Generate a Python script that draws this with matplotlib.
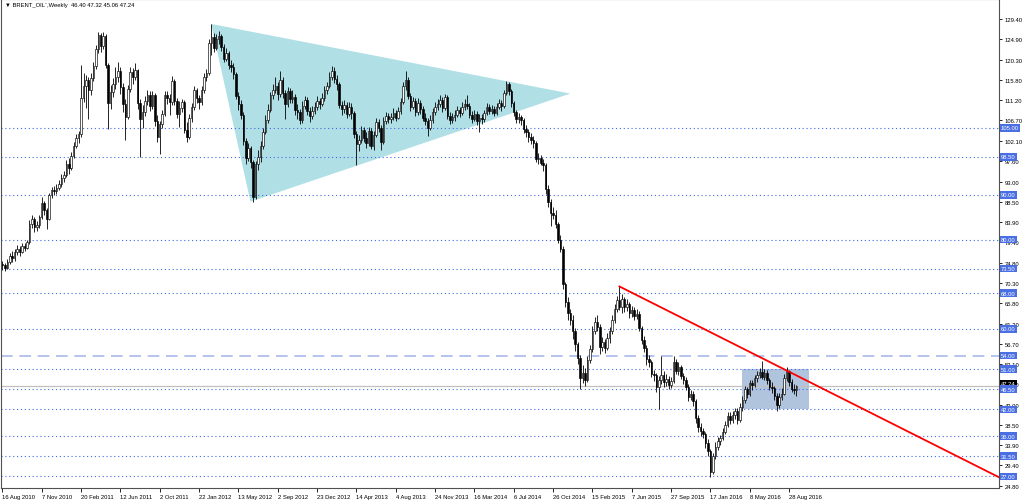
import numpy as np
import matplotlib.pyplot as plt
from matplotlib.patches import Polygon, Rectangle

# weekly closes (16 bars per row)
closes = [
    74.2, 73.6, 75.0, 76.4, 75.8, 77.2, 77.9, 77.3, 78.6, 78.2, 79.4, 83.5, 84.6, 82.9, 83.2, 85.0,
    88.1, 86.6, 84.6, 89.9, 91.2, 90.8, 91.6, 92.4, 93.8, 94.5, 96.9, 96.1, 98.7, 101.0, 102.8, 103.6,
    111.8, 114.5, 115.8, 113.6, 116.2, 118.9, 122.6, 125.9, 123.4, 125.5, 119.0, 110.5, 113.0, 114.8, 116.3, 117.8,
    114.2, 110.3, 107.5, 113.8, 117.6, 116.5, 117.9, 110.6, 107.0, 108.5, 111.1, 112.4, 110.0, 112.3, 106.6, 103.0,
    105.8, 108.2, 112.4, 111.8, 110.9, 115.6, 111.0, 108.2, 109.5, 110.7, 104.5, 103.0, 107.2, 109.8, 113.5, 111.6,
    110.8, 113.5, 116.4, 117.3, 124.0, 125.3, 123.0, 124.9, 125.5, 123.1, 120.5, 121.8, 119.0, 118.7, 117.0, 112.1,
    110.3, 108.0, 102.0, 98.2, 100.5, 97.3, 89.5, 97.0, 98.5, 101.0, 104.2, 106.8, 109.0, 112.3, 113.5, 114.5,
    112.6, 115.8, 112.9, 110.4, 113.3, 111.4, 112.0, 109.0, 108.5, 106.8, 110.0, 111.3, 108.8, 107.6, 108.9, 109.7,
    111.0, 110.3, 111.6, 113.5, 114.3, 116.5, 117.8, 116.0, 114.9, 110.2, 109.2, 110.1, 108.2, 109.8, 108.3, 103.6,
    101.5, 102.3, 104.5, 102.8, 101.6, 104.4, 100.9, 103.5, 106.4, 105.0, 101.8, 106.6, 107.6, 106.9, 107.5, 108.4,
    107.3, 108.7, 110.9, 114.4, 115.8, 112.2, 109.8, 111.1, 108.6, 110.6, 109.3, 107.3, 106.5, 105.1, 106.8, 108.6,
    109.8, 110.3, 111.2, 109.5, 111.9, 107.6, 106.7, 107.4, 108.0, 109.1, 108.4, 109.7, 110.4, 110.0, 108.0, 107.1,
    108.2, 106.6, 107.3, 106.9, 108.3, 109.8, 108.9, 109.2, 108.4, 109.8, 110.6, 109.9, 112.9, 114.9, 113.2, 110.5,
    108.5, 107.0, 107.5, 106.8, 104.8, 104.0, 103.0, 102.2, 101.6, 98.0, 98.3, 97.2, 96.7, 91.3, 88.5, 86.0,
    85.5, 83.5, 80.0, 78.0, 70.0, 66.0, 63.5, 62.0, 59.5, 56.5, 53.5, 49.0, 50.2, 48.6, 53.0, 55.5,
    59.5, 61.5, 60.5, 56.0, 57.0, 55.8, 58.0, 59.5, 62.0, 64.5, 66.5, 65.0, 66.8, 64.8, 65.6, 63.5,
    64.2, 62.8, 63.4, 60.2, 57.5, 55.8, 53.3, 52.5, 50.0, 49.6, 47.0, 48.5, 49.6, 48.0, 48.8, 47.5,
    48.3, 52.5, 50.5, 51.5, 49.5, 48.5, 47.0, 44.8, 45.5, 43.8, 40.0, 38.0, 37.2, 36.5, 34.5, 32.6,
    28.0, 31.5, 33.5, 34.8, 35.6, 37.0, 38.5, 40.5, 39.5, 40.8, 41.5, 39.5, 42.5, 44.0, 46.5, 45.5,
    47.8, 47.5, 48.9, 49.6, 50.3, 49.3, 50.2, 48.5, 47.0, 46.8, 45.0, 43.0, 44.8, 45.5, 49.0, 50.5,
    48.0, 46.5, 46.4, 47.24,
]
highs = [
    75.3, 74.8, 75.6, 77.0, 77.4, 78.0, 78.8, 78.5, 79.2, 79.3, 80.0, 84.3, 85.4, 85.0, 84.1, 85.6,
    89.5, 88.6, 87.1, 90.5, 91.8, 92.0, 92.4, 93.3, 94.6, 95.4, 97.8, 98.3, 99.6, 101.9, 103.6, 104.4,
    119.0, 117.4, 116.9, 116.4, 117.2, 119.8, 123.5, 126.6, 126.3, 126.4, 126.0, 119.6, 114.6, 116.1, 118.7, 119.7,
    118.7, 115.0, 111.4, 114.6, 118.6, 118.4, 119.6, 118.3, 111.4, 110.1, 112.2, 113.6, 113.3, 113.2, 112.9, 108.0,
    106.6, 109.0, 113.3, 113.2, 112.7, 116.7, 115.9, 111.7, 111.1, 111.5, 111.2, 106.3, 108.1, 110.6, 114.5, 114.0,
    112.3, 114.3, 117.2, 118.2, 125.0, 128.3, 126.2, 126.1, 126.7, 126.0, 123.9, 123.0, 122.3, 120.3, 119.5, 117.6,
    113.0, 111.2, 108.6, 102.7, 101.6, 101.0, 97.8, 97.6, 100.0, 102.0, 105.0, 108.0, 110.3, 113.1, 114.8, 116.5,
    115.3, 117.7, 116.4, 113.5, 114.2, 114.0, 113.4, 112.5, 110.3, 109.3, 111.0, 112.2, 111.9, 109.6, 110.0, 110.8,
    112.1, 111.8, 112.8, 114.5, 115.4, 117.6, 118.9, 118.6, 116.9, 115.3, 111.1, 111.3, 110.8, 110.9, 110.5, 108.9,
    104.3, 103.4, 105.4, 105.2, 104.0, 105.3, 104.9, 104.4, 107.3, 107.0, 105.6, 107.4, 108.6, 108.3, 108.4, 109.4,
    109.0, 109.6, 111.8, 115.3, 117.8, 116.3, 112.9, 112.0, 111.7, 111.6, 111.2, 109.9, 108.4, 107.3, 107.8, 109.5,
    110.8, 111.5, 112.4, 111.9, 112.6, 112.3, 108.5, 108.3, 109.0, 110.0, 109.8, 110.7, 111.4, 112.3, 110.6, 108.8,
    109.1, 108.9, 108.1, 108.2, 109.1, 110.6, 110.4, 110.1, 109.9, 110.6, 111.4, 111.2, 113.6, 115.6, 115.4, 113.7,
    111.1, 109.1, 108.3, 108.0, 107.2, 105.6, 104.8, 103.8, 103.2, 102.0, 99.3, 99.0, 98.0, 97.2, 92.3, 89.0,
    87.3, 86.6, 84.0, 81.0, 78.6, 70.6, 67.2, 64.4, 63.0, 60.2, 57.0, 54.1, 51.8, 51.2, 53.9, 56.4,
    60.6, 62.6, 63.0, 61.0, 58.2, 57.8, 59.1, 60.4, 63.1, 65.6, 67.4, 69.5, 67.7, 67.2, 66.6, 66.0,
    65.2, 64.9, 64.5, 63.9, 60.7, 58.3, 56.3, 54.1, 53.0, 50.8, 50.1, 49.4, 54.0, 50.6, 49.9, 49.4,
    49.3, 54.0, 53.2, 52.6, 52.0, 50.2, 49.2, 47.6, 46.4, 46.0, 44.2, 40.7, 38.9, 37.9, 37.0, 35.3,
    33.2, 32.3, 34.6, 35.8, 36.3, 37.8, 39.3, 41.3, 41.4, 41.6, 42.3, 42.2, 43.3, 44.9, 47.2, 47.0,
    48.5, 48.6, 49.6, 50.5, 51.3, 52.9, 51.0, 50.7, 49.1, 48.0, 47.3, 45.6, 45.6, 46.8, 49.8, 51.5,
    50.9, 48.7, 47.6, 47.32,
]
lows = [
    73.2, 72.9, 73.3, 74.6, 75.0, 75.3, 76.5, 76.4, 76.9, 77.4, 77.8, 79.0, 82.6, 81.8, 82.0, 82.6,
    84.7, 85.4, 82.3, 84.3, 89.2, 89.9, 90.1, 91.0, 91.8, 92.9, 94.0, 94.7, 95.6, 98.2, 100.4, 101.7,
    103.0, 110.7, 109.5, 107.1, 112.3, 115.5, 118.2, 121.8, 121.9, 122.6, 118.4, 104.8, 109.3, 111.9, 113.8, 115.4,
    112.5, 108.6, 102.2, 106.9, 113.0, 114.9, 115.8, 109.2, 98.4, 105.1, 107.6, 110.2, 108.9, 109.3, 105.5, 101.8,
    99.2, 104.9, 107.6, 110.3, 107.8, 110.2, 110.2, 107.3, 105.3, 108.6, 103.8, 101.9, 102.5, 106.4, 109.1, 110.5,
    109.2, 110.2, 112.9, 115.5, 116.8, 121.3, 122.0, 122.4, 123.8, 122.2, 119.8, 119.9, 118.1, 117.6, 115.9, 111.4,
    109.1, 106.9, 101.2, 97.0, 97.6, 96.1, 88.5, 89.0, 95.5, 97.4, 100.3, 103.6, 106.0, 108.5, 111.4, 112.8,
    111.3, 112.0, 111.7, 107.0, 109.8, 110.5, 110.6, 107.9, 107.0, 105.8, 106.2, 109.3, 107.9, 106.4, 106.9, 108.1,
    109.0, 109.3, 109.9, 111.0, 112.7, 113.9, 115.8, 115.1, 113.6, 109.5, 107.9, 108.4, 107.3, 107.6, 106.9, 102.7,
    96.7, 99.8, 101.7, 101.9, 100.4, 101.0, 100.2, 100.0, 102.9, 104.2, 100.0, 101.3, 105.9, 106.0, 106.2, 106.8,
    106.5, 106.9, 108.2, 110.3, 113.6, 111.4, 108.8, 109.2, 107.7, 108.0, 108.2, 106.5, 105.6, 103.3, 104.5, 106.2,
    108.0, 109.1, 109.6, 108.6, 109.0, 106.9, 105.8, 106.0, 106.6, 107.4, 107.5, 107.9, 109.0, 109.2, 107.3, 106.2,
    106.6, 105.7, 104.0, 105.9, 106.3, 107.8, 108.1, 108.1, 107.6, 107.9, 109.3, 108.9, 109.4, 112.3, 112.4, 109.8,
    107.6, 106.2, 106.2, 105.6, 103.9, 103.0, 101.9, 101.3, 100.6, 97.3, 96.9, 96.6, 95.4, 90.2, 87.2, 83.1,
    84.6, 82.7, 79.2, 77.2, 68.9, 64.9, 62.0, 60.9, 57.8, 55.0, 52.2, 46.5, 47.9, 47.2, 48.0, 52.3,
    54.9, 58.8, 59.6, 54.4, 55.1, 54.5, 55.2, 56.8, 58.9, 61.3, 63.8, 64.2, 63.6, 63.7, 63.9, 62.5,
    62.7, 61.9, 62.1, 59.6, 56.6, 54.9, 52.0, 51.4, 49.2, 48.3, 45.8, 42.0, 47.6, 46.9, 47.2, 46.6,
    46.8, 47.8, 49.8, 49.6, 48.7, 47.6, 46.2, 43.9, 44.0, 42.8, 38.9, 36.9, 36.1, 35.6, 33.3, 31.5,
    26.8, 27.5, 30.9, 32.8, 33.9, 35.0, 36.4, 38.0, 38.6, 38.9, 39.8, 38.8, 39.2, 41.7, 43.5, 44.6,
    45.0, 46.4, 46.9, 48.2, 48.9, 48.7, 48.5, 47.6, 46.2, 45.6, 44.0, 41.5, 42.3, 44.1, 45.1, 48.4,
    47.3, 45.8, 45.4, 45.06,
]
first_open = 74.6

date_labels = ["16 Aug 2010", "7 Nov 2010", "20 Feb 2011", "12 Jun 2011", "2 Oct 2011",
               "22 Jan 2012", "13 May 2012", "2 Sep 2012", "23 Dec 2012", "14 Apr 2013",
               "4 Aug 2013", "24 Nov 2013", "16 Mar 2014", "6 Jul 2014", "26 Oct 2014",
               "15 Feb 2015", "7 Jun 2015", "27 Sep 2015", "17 Jan 2016", "8 May 2016",
               "28 Aug 2016"]
price_ticks = [129.40, 124.90, 120.30, 115.80, 111.20, 106.70, 102.10, 97.60, 93.00, 88.50,
               83.90, 79.40, 74.80, 70.30, 65.80, 61.20, 56.70, 52.10, 47.60, 43.00,
               38.50, 33.90, 29.40, 24.80]
levels = [105.0, 98.5, 90.0, 80.0, 73.5, 68.0, 60.0, 51.0, 46.5, 42.0, 36.0, 31.5, 27.0]
dashed_level = 54.0
last_price = 47.24

# drawn objects (bar index, price)
triangle = [(84.9, 128.3), (100.9, 88.5), (231.0, 112.7)]
trend_a = (251, 69.5)
trend_b = (320, 50.4)
box_x = (301, 328)
box_y = (42.0, 51.0)

n = len(closes)
idx = np.arange(n)
c = np.array(closes)
o = np.array([first_open] + closes[:-1])
h = np.array(highs)
l = np.array(lows)

plt.rcParams['font.family'] = ['Liberation Sans', 'DejaVu Sans']
fs = 4.2

fig = plt.figure(figsize=(10.24, 5.02), dpi=100)
ax = fig.add_axes([1 / 1024, 13 / 502, 998 / 1024, 489 / 502])
xmin, xmax = -0.57, 405.4
ax.set_xlim(xmin, xmax)
ax.set_ylim(24.36, 133.88)

# triangle pattern
ax.add_patch(Polygon(triangle, closed=True, facecolor='#b0e0e6', edgecolor='none', zorder=1))

# range box
ax.add_patch(Rectangle((box_x[0], box_y[0]), box_x[1] - box_x[0], box_y[1] - box_y[0],
                       facecolor='#b0c4de', edgecolor='none', zorder=1))

# horizontal levels
for p in levels:
    ax.axhline(p, color='#4169e1', lw=0.8, ls=(0, (1, 2.5)), zorder=1.5)
ax.axhline(dashed_level, color='#a9b9ea', lw=1.2, ls=(0, (7, 4)), zorder=1.5)
ax.axhline(last_price, color='#c0c0c0', lw=0.9, zorder=1.5)

# trend line as ray to the right edge
slope = (trend_b[1] - trend_a[1]) / (trend_b[0] - trend_a[0])
ax.plot([trend_a[0], xmax], [trend_a[1], trend_a[1] + slope * (xmax - trend_a[0])],
        color='#ff0000', lw=1.3, zorder=5)

# candles
ax.vlines(idx, l, h, color='black', lw=0.6, zorder=3)
up = c >= o
body_bottom = np.minimum(o, c)
body_h = np.maximum(np.abs(c - o), 0.15)
ax.bar(idx[up], body_h[up], bottom=body_bottom[up], width=0.62, color='white',
       edgecolor='black', lw=0.45, zorder=4)
ax.bar(idx[~up], body_h[~up], bottom=body_bottom[~up], width=0.62, color='black',
       edgecolor='black', lw=0.45, zorder=4)

# axes styling
for side in ['left', 'right', 'bottom', 'top']:
    ax.spines[side].set_color('#505050')
    ax.spines[side].set_linewidth(0.8)

ax.yaxis.tick_right()
ax.set_yticks(price_ticks)
ax.set_yticklabels([f"{p:.2f}" for p in price_ticks])
ax.tick_params(axis='y', direction='out', length=2.5, width=0.6, pad=1.5, labelsize=fs)

ax.set_xticks(np.arange(0, 16 * len(date_labels), 16))
ax.set_xticklabels(date_labels)
ax.tick_params(axis='x', direction='out', length=3, width=0.6, pad=1, labelsize=fs)
for lab in ax.get_xticklabels():
    lab.set_ha('left')

# price boxes on the right scale
ytr = ax.get_yaxis_transform()
ax.text(1.002, last_price + 0.5, f"{last_price:.2f}", transform=ytr, fontsize=fs,
        color='white', va='center', ha='left', clip_on=False, zorder=9,
        bbox=dict(boxstyle='square,pad=0.2', facecolor='black', edgecolor='none'))
for p in levels + [dashed_level]:
    ax.text(1.002, p, f"{p:.2f}", transform=ytr, fontsize=fs, color='white',
            va='center', ha='left', clip_on=False, zorder=10,
            bbox=dict(boxstyle='square,pad=0.2', facecolor='#4a6fe3', edgecolor='none'))

# header
ax.text(0.004, 0.993, "\u25BC BRENT_OIL`,Weekly  46.40 47.32 45.06 47.24",
        transform=ax.transAxes, fontsize=fs, va='top', ha='left', color='black', zorder=10)

fig.savefig("out.png", dpi=100)
